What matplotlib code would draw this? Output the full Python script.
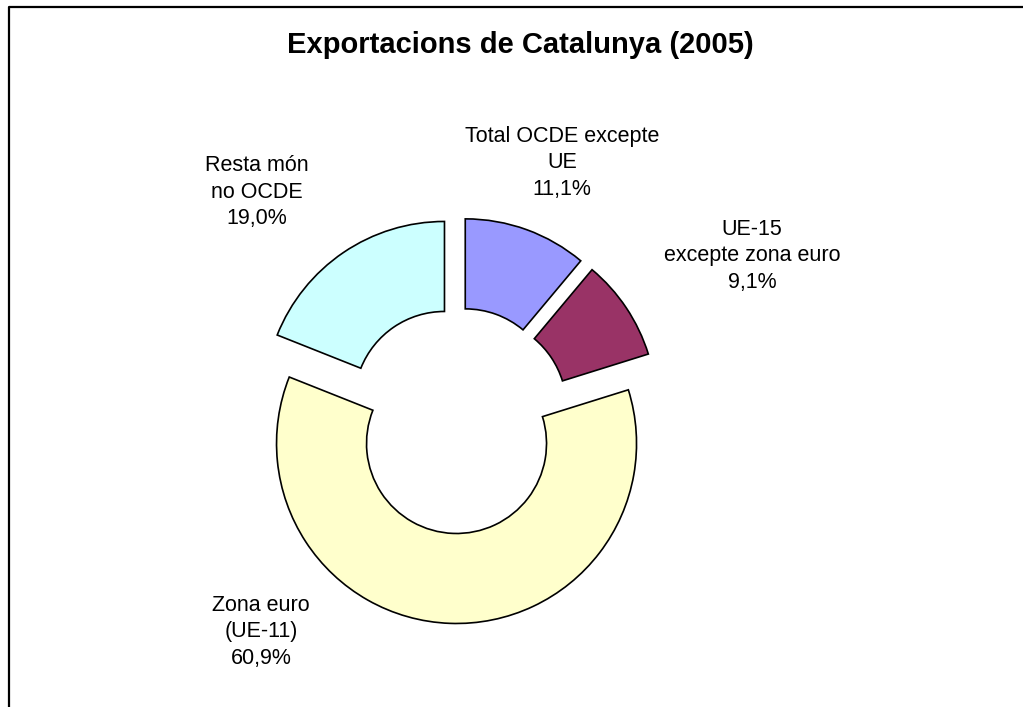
import matplotlib.pyplot as plt

plt.rcParams['font.family'] = ['Liberation Sans', 'DejaVu Sans']

# data, clockwise from 12 o'clock
regions = ["Total OCDE excepte\nUE", "UE-15\nexcepte zona euro",
           "Zona euro\n(UE-11)", "Resta món\nno OCDE"]
shares = [11.1, 9.1, 60.9, 19.0]
colors = ["#9999FF", "#993366", "#FFFFCC", "#CCFFFF"]

# label anchors in pixels (x, y from top)
label_pos = [(562, 163), (752, 256), (261, 632), (257, 192)]

W, H = 1023, 707
fig = plt.figure(figsize=(W / 100, H / 100), dpi=100)
ax = fig.add_axes([0, 0, 1, 1])

cx, cy = 457.4, H - 420.5
R = 180
ax.pie(shares, colors=colors, startangle=90, counterclock=False,
       radius=R, center=(cx, cy), explode=[23] * len(shares),
       wedgeprops=dict(width=90, edgecolor="black", linewidth=1.2))

ax.set_xlim(0, W)
ax.set_ylim(0, H)
ax.set_aspect("auto")
ax.axis("off")

for name, v, (x, y) in zip(regions, shares, label_pos):
    txt = name + "\n" + f"{v:.1f}".replace(".", ",") + "%"
    ax.text(x, H - y, txt, ha="center", va="center", fontsize=15.5,
            linespacing=1.32, multialignment="center")

ax.text(520.5, H - 53, "Exportacions de Catalunya (2005)", ha="center",
        va="baseline", fontsize=21, fontweight="bold")

# chart frame (cut at right/bottom edge)
ax.plot([9, 9, W + 10], [-10, H - 7, H - 7], color="black", lw=1.6,
        clip_on=False)

fig.savefig("out.png", dpi=100)
